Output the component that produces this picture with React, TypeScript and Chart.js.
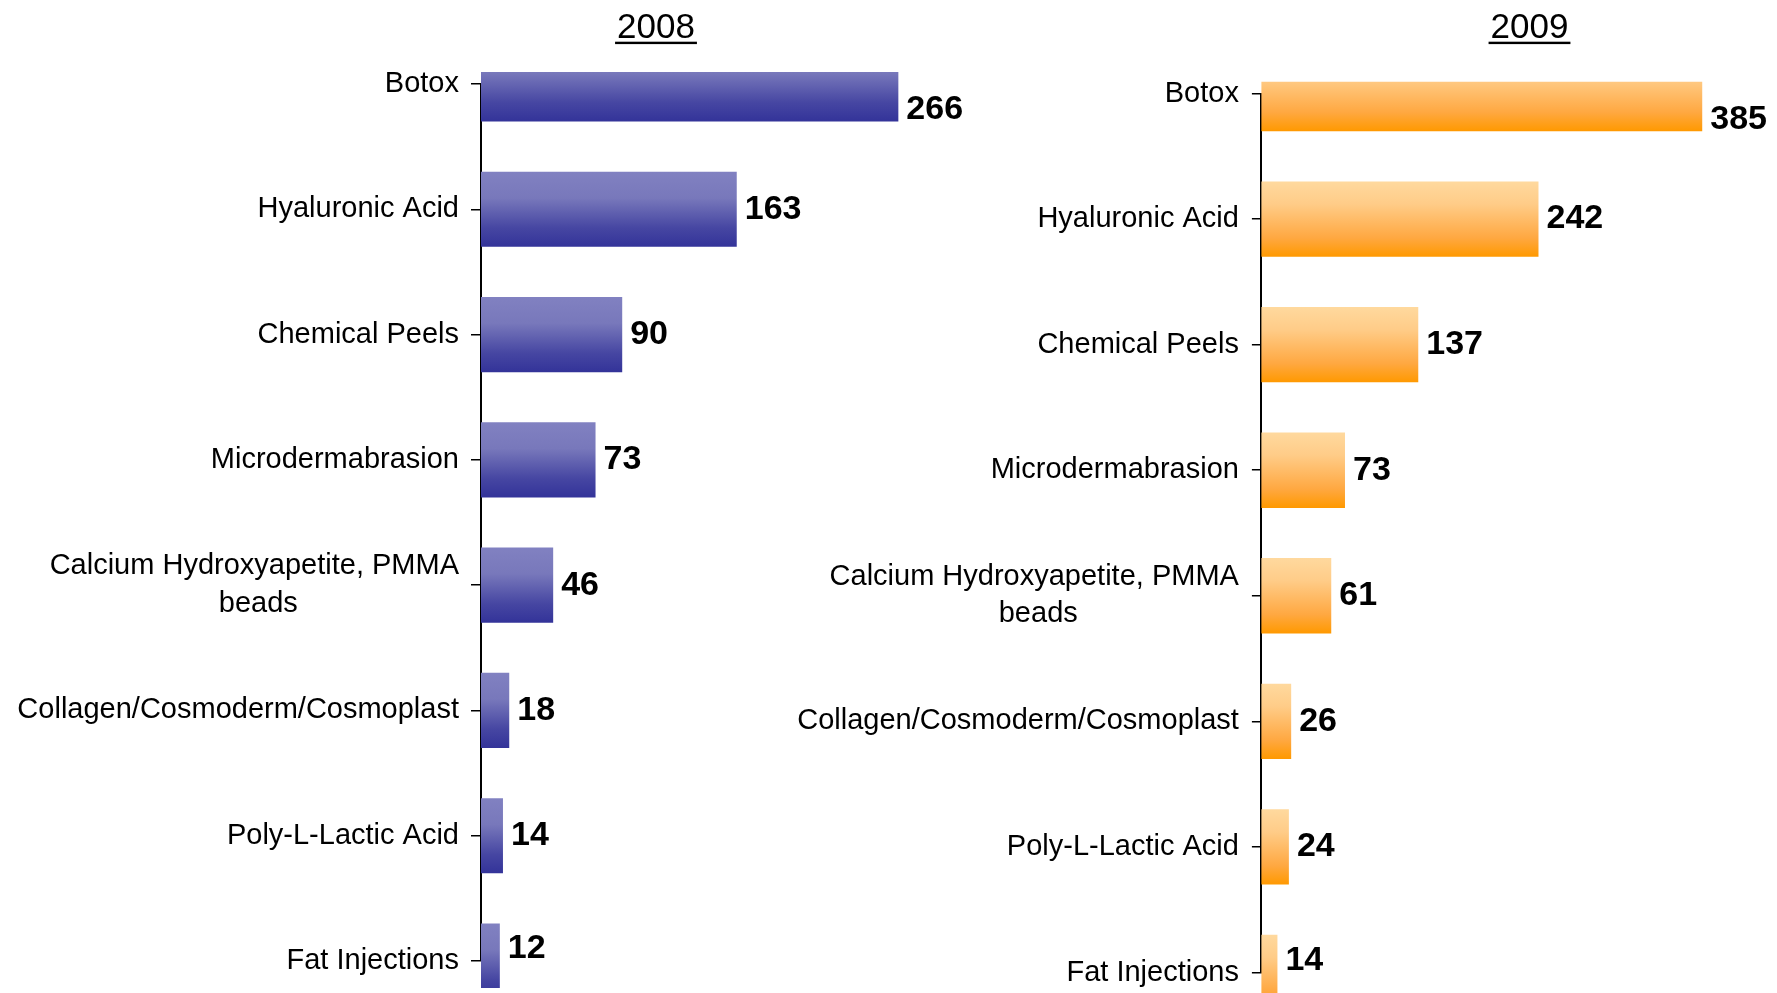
import React, { useEffect, useRef } from 'react';
import { Chart, registerables } from 'chart.js';

Chart.register(...registerables);

// ---- data ----
const categories: (string | string[])[] = [
  'Botox',
  'Hyaluronic Acid',
  'Chemical Peels',
  'Microdermabrasion',
  ['Calcium Hydroxyapetite, PMMA', 'beads'],
  'Collagen/Cosmoderm/Cosmoplast',
  'Poly-L-Lactic Acid',
  'Fat Injections',
];
const values2008 = [266, 163, 90, 73, 46, 18, 14, 12];
const values2009 = [385, 242, 137, 73, 61, 26, 24, 14];
const titles = ['2008', '2009'];

const FONT_FAMILY = '"Liberation Sans", Arial, Helvetica, sans-serif';
const LABEL_SIZE = 29;

// center the lines of a multi-line label against each other (block stays right-aligned)
function centerLines(label: string | string[]): string | string[] {
  if (!Array.isArray(label)) return label;
  const c = document.createElement('canvas').getContext('2d')!;
  c.font = `${LABEL_SIZE}px ${FONT_FAMILY}`;
  const widths = label.map((l) => c.measureText(l).width);
  const max = Math.max(...widths);
  const sp = c.measureText('\u00A0').width;
  return label.map(
    (l, i) => l + '\u00A0'.repeat(Math.max(0, Math.round((max - widths[i]) / 2 / sp)))
  );
}

const valueLabels = {
  id: 'valueLabels',
  afterDatasetsDraw(chart: any, _args: any, opts: any) {
    const { ctx, chartArea } = chart;
    const meta = chart.getDatasetMeta(0);
    const data = chart.data.datasets[0].data as number[];
    const visTop = opts.clipTop === false ? 0 : chartArea.top - opts.clipTop;
    const visBottom =
      opts.clipBottom === false ? chart.height : Math.min(chartArea.bottom + opts.clipBottom, chart.height);
    ctx.save();
    ctx.font = `bold 34px ${FONT_FAMILY}`;
    ctx.fillStyle = '#000';
    ctx.textBaseline = 'middle';
    ctx.textAlign = 'left';
    meta.data.forEach((el: any, i: number) => {
      const { x, y, height } = el.getProps(['x', 'y', 'height'], true);
      const top = y - height / 2;
      const bottom = y + height / 2;
      let ly = y;
      if (top < visTop - 0.5) ly = bottom - 12;
      else if (bottom > visBottom + 0.5) ly = top + 25.6;
      ctx.fillText(String(data[i]), x + 8, ly);
    });
    ctx.restore();
  },
};

const underlinedTitle = {
  id: 'underlinedTitle',
  afterDraw(chart: any, _args: any, opts: any) {
    const { ctx } = chart;
    ctx.save();
    ctx.font = `35px ${FONT_FAMILY}`;
    ctx.fillStyle = '#000';
    ctx.textAlign = 'center';
    ctx.textBaseline = 'alphabetic';
    ctx.fillText(opts.text, opts.x, opts.y);
    const w = ctx.measureText(opts.text).width + 4;
    ctx.fillRect(opts.x - w / 2, opts.y + 4, w, 2.4);
    ctx.restore();
  },
};

interface PanelSpec {
  values: number[];
  title: string;
  titleX: number;
  canvasWidth: number;
  axisWidth: number;
  xMax: number;
  ppu: number;
  padTop: number;
  padBottom: number;
  clipTop: number | false;
  clipBottom: number | false;
  tickLength: number;
  tickPadding: number;
  stops: [number, string][];
}

const BAR_PCT = 0.6;

function buildConfig(p: PanelSpec): any {
  const padRight = Math.max(0, p.canvasWidth - p.axisWidth - p.xMax * p.ppu);
  return {
    type: 'bar',
    data: {
      labels: categories.map(centerLines),
      datasets: [
        {
          data: p.values,
          borderWidth: 0,
          barPercentage: BAR_PCT,
          categoryPercentage: 1,
          clip: { left: false, right: false, top: p.clipTop, bottom: p.clipBottom },
          backgroundColor: (ctx: any) => {
            const chart = ctx.chart;
            const yScale = chart.scales && chart.scales.y;
            const fallback = p.stops[p.stops.length - 1][1];
            if (!chart.chartArea || !yScale || ctx.dataIndex === undefined) return fallback;
            const c = yScale.getPixelForValue(ctx.dataIndex);
            const step = Math.abs(yScale.getPixelForValue(1) - yScale.getPixelForValue(0));
            const half = (step * BAR_PCT) / 2;
            if (!isFinite(c) || !isFinite(half) || half <= 0) return fallback;
            const g = chart.ctx.createLinearGradient(0, c - half, 0, c + half);
            p.stops.forEach(([o, col]) => g.addColorStop(o, col));
            return g;
          },
        },
      ],
    },
    options: {
      indexAxis: 'y',
      responsive: false,
      animation: false,
      devicePixelRatio: 1,
      layout: { padding: { top: p.padTop, bottom: p.padBottom, left: 0, right: padRight } },
      scales: {
        x: { display: false, min: 0, max: p.xMax },
        y: {
          type: 'category',
          offset: false,
          afterFit: (scale: any) => {
            scale.width = p.axisWidth;
            scale.paddingTop = 0;
            scale.paddingBottom = 0;
          },
          grid: {
            display: true,
            offset: false,
            drawOnChartArea: false,
            drawTicks: true,
            tickLength: p.tickLength,
            color: '#000',
            lineWidth: 1.5,
          },
          border: { display: true, color: '#000', width: 2 },
          ticks: {
            autoSkip: false,
            color: '#000',
            padding: p.tickPadding,
            font: { family: FONT_FAMILY, size: LABEL_SIZE, lineHeight: 1.29 },
          },
        },
      },
      plugins: {
        legend: { display: false },
        title: { display: false },
        tooltip: { enabled: false },
        valueLabels: { clipTop: p.clipTop, clipBottom: p.clipBottom },
        underlinedTitle: { text: p.title, x: p.titleX, y: 37.7 },
      },
    },
    plugins: [valueLabels, underlinedTitle],
  };
}

const LEFT = { x: 0, w: 1000 };
const RIGHT = { x: 780, w: 997 };
const H = 993;

export default function App() {
  const leftRef = useRef<HTMLCanvasElement>(null);
  const rightRef = useRef<HTMLCanvasElement>(null);

  useEffect(() => {
    document.body.style.margin = '0';
    const c1 = new Chart(
      leftRef.current!,
      buildConfig({
        values: values2008,
        title: titles[0],
        titleX: 656,
        canvasWidth: LEFT.w,
        axisWidth: 481,
        xMax: 300,
        ppu: 1.569,
        padTop: 84,
        padBottom: H - 961,
        clipTop: 12,
        clipBottom: 27,
        tickLength: 10,
        tickPadding: 12,
        stops: [
          [0, '#8181C1'],
          [0.35, '#7878BB'],
          [0.75, '#4646A2'],
          [1, '#333399'],
        ],
      })
    );
    const c2 = new Chart(
      rightRef.current!,
      buildConfig({
        values: values2009,
        title: titles[1],
        titleX: 1529.5 - RIGHT.x,
        canvasWidth: RIGHT.w,
        axisWidth: 1261.4 - RIGHT.x,
        xMax: 450,
        ppu: 1.145,
        padTop: 93.5,
        padBottom: H - 972.5,
        clipTop: 11.8,
        clipBottom: false,
        tickLength: 9.5,
        tickPadding: 13,
        stops: [
          [0, '#FFD99E'],
          [0.3, '#FFCC88'],
          [0.75, '#FFA841'],
          [1, '#FF9900'],
        ],
      })
    );
    return () => {
      c1.destroy();
      c2.destroy();
    };
  }, []);

  return (
    <div style={{ position: 'fixed', left: 0, top: 0, width: 1777, height: H, background: '#fff' }}>
      <canvas
        ref={leftRef}
        width={LEFT.w}
        height={H}
        style={{ position: 'absolute', left: LEFT.x, top: 0 }}
      />
      <canvas
        ref={rightRef}
        width={RIGHT.w}
        height={H}
        style={{ position: 'absolute', left: RIGHT.x, top: 0 }}
      />
    </div>
  );
}
